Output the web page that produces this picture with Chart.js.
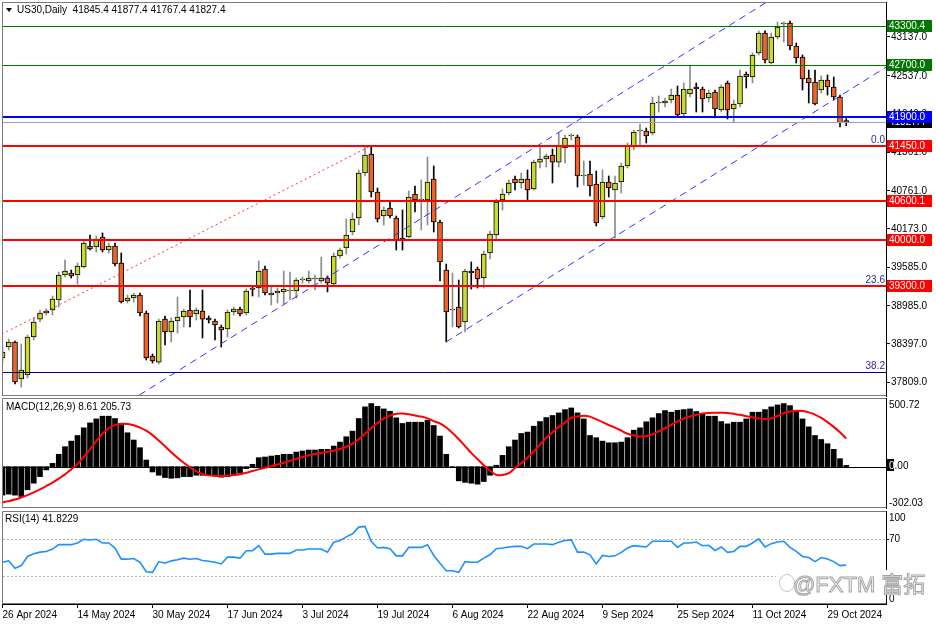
<!DOCTYPE html>
<html>
<head>
<meta charset="utf-8">
<script src="https://cdn.jsdelivr.net/npm/chart.js"></script>
<style>
  html, body { margin:0; padding:0; background:#fff; }
  body { position:relative; width:936px; height:624px; overflow:hidden; font-family:"Liberation Sans", Arial, sans-serif; }
  canvas { position:absolute; left:0; }
  #cMain { top:0; } #cMacd { top:397px; } #cRsi { top:509px; }
  .cap { position:absolute; font-size:10px; line-height:12px; color:#000; white-space:pre; }
  .tri { position:absolute; left:6px; top:8px; width:0; height:0; border-left:3.5px solid transparent; border-right:3.5px solid transparent; border-top:4px solid #000; }
  #wm { position:absolute; left:776px; top:570px; width:151px; height:25px; background:#fff; white-space:nowrap; }
  #wm .logo { position:absolute; left:3px; top:4px; width:14px; height:16px; border:1px solid #c4c4c4; border-radius:50%; }
  #wm .txt { position:absolute; left:17px; top:-1px; font-size:22px; line-height:26px; color:#fff; -webkit-text-stroke:1px #a4a4a4; }
  #wm .cjk { font-family:"Noto Sans CJK SC", sans-serif; margin-left:6px; }
</style>
</head>
<body>
<canvas id="cMain" width="936" height="397"></canvas>
<canvas id="cMacd" width="936" height="112"></canvas>
<canvas id="cRsi" width="936" height="115"></canvas>
<div class="tri"></div>
<div class="cap" id="tMain" style="left:17px;top:4px"></div>
<div class="cap" id="tMacd" style="left:6px;top:401px"></div>
<div class="cap" id="tRsi" style="left:5px;top:513px"></div>
<div id="wm"><div class="logo"></div><div class="txt">@FXTM<span class="cjk">富拓</span></div></div>
<script>
// daily bars, 26 Apr 2024 .. 1 Nov 2024 (bar index = position on the time axis)
const openP = [
  38181,38350,38428,37856,37918,38505,38782,38875,38922,39076,
  39462,39493,39462,39586,39910,39895,40049,39848,39910,39647,
  39061,39107,39153,38875,38211,38118,38782,38582,38752,38813,
  38922,38860,38906,38798,38752,38659,38628,38891,38937,38875,
  39246,39261,39555,39153,39184,39200,39215,39215,39385,39370,
  39400,39370,39416,39323,39756,39879,40127,40342,41037,41330,
  40744,40373,40497,40342,40034,40049,40713,40620,40620,40944,
  40280,39539,38922,38968,38736,39524,39555,39416,39802,40080,
  40620,40728,40944,40883,40944,40790,41206,41253,41315,41206,
  41423,41608,41593,40991,41022,40867,40358,40898,40774,40898,
  41145,41438,41685,41685,41654,42118,42118,42164,42241,41948,
  42257,42365,42334,42195,42288,42010,42427,42025,42102,42566,
  42519,42890,43199,42735,43137,43337,43353,42998,42828,42504,
  42442,42318,42473,42365,42210,41845.4
];
const highP = [
  38381,38474,38443,38397,38536,38798,38922,38937,39138,39508,
  39693,39539,39647,40003,40080,40065,40111,39956,39956,39802,
  39153,39184,39184,38906,38242,38782,38829,38798,39123,38937,
  39230,38953,39230,38829,38782,38690,38922,38968,38968,39246,
  39292,39678,39601,39277,39261,39524,39508,39416,39431,39524,
  39462,39740,39447,39802,39879,40327,40420,41083,41454,41454,
  40805,40512,40605,40373,40466,40759,40836,40929,41284,41145,
  40311,39632,39493,39385,39555,39663,39586,39833,40142,40635,
  40790,40929,40991,41037,41083,41237,41454,41330,41407,41654,
  41624,41639,41624,41222,41222,41068,41083,40991,40991,41191,
  41500,41700,41793,41731,42210,42226,42195,42334,42380,42427,
  42689,42427,42365,42318,42318,42396,42457,42164,42627,42597,
  42890,43230,43230,43199,43368,43368,43384,43044,42859,42627,
  42627,42535,42550,42519,42241,41877.4
];
const lowP = [
  38103,38304,37779,37733,37872,38459,38736,38844,38844,38968,
  39431,39416,39323,39570,39848,39817,39817,39802,39601,39030,
  39030,39045,38829,38150,38103,38087,38381,38428,38567,38659,
  38659,38767,38489,38720,38459,38350,38505,38844,38829,38844,
  39138,39123,39153,38999,39030,39014,39076,39107,39339,39339,
  39230,39339,39200,39308,39725,39786,40080,40234,40991,40666,
  40280,40234,40342,39848,39848,40034,40435,40157,40234,40126,
  39370,38428,38659,38644,38582,39246,39261,39261,39709,40003,
  40466,40697,40774,40805,40620,40774,41114,41129,40883,41129,
  41191,41546,40821,40852,40682,40219,40327,40666,40034,40728,
  41114,41392,41454,41500,41624,41978,42056,42118,41901,41917,
  42210,41979,41979,42133,41886,41979,41871,41825,42056,42349,
  42427,42859,42735,42720,43106,43060,42936,42735,42318,42118,
  42087,42272,42241,42164,41747,41767.4
];
const closeP = [
  38273,38428,37810,37995,38505,38736,38875,38906,39092,39462,
  39524,39447,39601,39956,39864,40018,39848,39910,39632,39045,
  39107,39153,38875,38181,38134,38752,38582,38752,38813,38906,
  38813,38922,38782,38767,38690,38613,38891,38937,38860,39215,
  39240,39524,39184,39184,39215,39246,39222,39385,39392,39416,
  39408,39416,39339,39756,39848,40080,40327,41037,41315,40744,
  40327,40466,40373,40003,40003,40666,40620,40628,40898,40280,
  39663,38891,38929,38659,39524,39493,39400,39786,40095,40589,
  40713,40883,40883,40944,40774,41206,41253,41299,41206,41454,
  41577,41616,40991,40999,40836,40265,40898,40805,40883,41145,
  41454,41670,41693,41608,42118,42126,42149,42241,41932,42334,
  42334,42334,42179,42272,42025,42365,42010,42102,42535,42519,
  42859,43199,42782,43137,43291,43345,42998,42813,42488,42427,
  42102,42473,42365,42210,41809,41827.4
];
const macdMain = [
  -208,-201,-208,-218,-169,-121,-73,-24,24,90,
  145,186,227,283,319,348,368,368,351,307,
  247,194,138,48,-39,-63,-80,-85,-82,-73,
  -73,-63,-63,-61,-63,-77,-73,-63,-48,-15,
  17,65,70,77,82,90,90,106,114,121,
  121,126,126,150,179,218,259,351,436,460,
  440,421,404,356,315,324,324,324,339,300,
  223,90,-5,-104,-115,-121,-128,-109,-63,10,
  82,145,194,242,252,295,329,358,373,392,
  416,428,392,348,227,211,186,174,174,179,
  211,266,283,327,356,387,409,397,411,416,
  421,402,387,368,368,329,312,324,324,348,
  397,397,416,436,450,460,445,404,348,290,
  227,198,167,126,58,8.61
];
const macdSignal = [
  -261,-252,-240,-225,-208,-188,-166,-142,-117,-88,
  -57,-20,18,70,125,185,240,280,303,312,
  311,302,285,262,230,190,148,105,65,28,
  -5,-35,-55,-64,-68,-69,-67,-62,-55,-45,
  -32,-20,-8,3,15,28,42,56,70,82,
  92,100,108,116,128,145,168,200,240,280,
  318,350,372,385,388,382,373,365,352,332,
  315,285,245,200,150,100,55,10,-30,-60,
  -62,-48,-10,25,65,110,160,210,250,290,
  320,355,365,372,365,345,325,303,285,262,
  240,228,220,222,235,258,280,305,330,350,
  366,378,388,392,393,393,392,385,378,368,
  360,352,348,352,370,390,402,408,405,396,
  380,355,325,290,250,205.73
];
const rsi14 = [
  44.9,46.4,38.4,41.3,51.1,54.0,55.8,56.5,59.1,63.8,
  63.8,63.8,65.6,69.6,68.9,69.6,65.6,65.6,60.2,48.2,
  48.2,48.9,44.9,34.7,34.0,45.6,43.8,46.4,47.5,49.3,
  48.2,48.9,46.7,46.0,44.9,43.1,50.4,50.4,49.3,57.3,
  57.3,62.7,53.6,53.6,54.4,54.4,54.4,58.0,58.0,59.1,
  59.1,59.1,55.8,66.4,68.2,72.2,75.5,82.7,83.5,67.5,
  60.2,60.9,59.5,51.8,51.8,60.9,60.9,60.9,63.8,52.2,
  43.8,35.8,35.8,34.0,45.6,44.9,44.9,49.3,52.9,59.5,
  60.2,61.3,62.0,62.0,59.5,64.5,64.5,64.5,63.8,66.4,
  68.2,68.9,55.8,55.8,52.9,43.1,52.2,51.1,51.8,55.5,
  60.2,62.7,62.0,61.3,67.5,67.5,67.5,67.5,60.9,65.6,
  65.6,66.7,62.7,63.1,57.6,61.3,55.5,56.5,62.0,62.0,
  65.6,70.0,61.3,64.9,66.7,67.5,60.9,56.5,51.1,50.0,
  45.6,50.0,48.5,45.6,41.3,41.8229
];

const dateTicks = ['26 Apr 2024','14 May 2024','30 May 2024','17 Jun 2024','3 Jul 2024','19 Jul 2024',
                   '6 Aug 2024','22 Aug 2024','9 Sep 2024','25 Sep 2024','11 Oct 2024','29 Oct 2024'];
const dateTickBars = [0,12,24,36,48,60,72,84,96,108,120,132];
const priceTicks = [43137.0,42537.0,41949.0,41361.0,40761.0,40173.0,39585.0,38985.0,38397.0,37809.0];

// drawn objects
const greenLevels = [43300.4, 42700.0];
const blueLevels = [41900.0];
const redLevels = [41450.0, 40600.1, 40000.0, 39300.0];
const fibLevels = [0.0, 23.6, 38.2];
const fibPrices = [41450, 39290, 37964];
const trendRed = [[-0.1, 38550], [58.8, 41450]];
const channelUp = [[21.9, 37609], [122.3, 43677]];
const channelDn = [[70.96, 38428], [141.4, 42673]];

const macdAxis = [500.72, 0.00, -302.03];
const rsiAxis = [100, 70, 0];
const rsiLevels = [30, 70];

const X_MIN = -0.08, X_MAX = 141.36;
const FONT = '"Liberation Sans", Arial, sans-serif';
Chart.defaults.font.family = FONT;
Chart.defaults.font.size = 10;
Chart.defaults.color = '#000';

const last = closeP.length - 1;
document.getElementById('tMain').textContent =
  'US30,Daily  ' + [openP[last], highP[last], lowP[last], closeP[last]].map(v => v.toFixed(1)).join(' ');
document.getElementById('tMacd').textContent =
  'MACD(12,26,9) ' + macdMain[macdMain.length - 1].toFixed(2) + ' ' + macdSignal[macdSignal.length - 1].toFixed(2);
document.getElementById('tRsi').textContent = 'RSI(14) ' + rsi14[rsi14.length - 1].toFixed(4);

const pts = arr => arr.map(p => ({ x: p[0], y: p[1] }));
const bull = i => closeP[i] >= openP[i];

const fitY = s => { s.width = 50; s.paddingTop = 0; s.paddingBottom = 0; };
const hiddenX = { type: 'linear', min: X_MIN, max: X_MAX, offset: false, display: false };
const base = {
  responsive: false, animation: false, events: [],
  plugins: { legend: { display: false }, tooltip: { enabled: false } }
};

// panel frame (left, top, bottom)
const frame = {
  id: 'frame',
  afterDraw(c) {
    const a = c.chartArea, ctx = c.ctx;
    ctx.save();
    ctx.strokeStyle = '#7a7a7a';
    ctx.lineWidth = 1;
    ctx.beginPath();
    ctx.moveTo(a.left + 0.5, a.bottom); ctx.lineTo(a.left + 0.5, a.top + 0.5); ctx.lineTo(a.right, a.top + 0.5);
    ctx.moveTo(a.left, a.bottom - 0.5); ctx.lineTo(a.right, a.bottom - 0.5);
    ctx.stroke();
    ctx.restore();
  }
};

function hLine(ctx, a, py, color, w) {
  const y = w % 2 ? Math.round(py) + 0.5 : Math.round(py);
  ctx.strokeStyle = color; ctx.lineWidth = w;
  ctx.beginPath(); ctx.moveTo(a.left + 1, y); ctx.lineTo(a.right, y); ctx.stroke();
}
function tag(ctx, py, bg, text) {
  const y = Math.round(py);
  ctx.fillStyle = bg; ctx.fillRect(887, y - 6, 45, 12);
  ctx.fillStyle = '#fff'; ctx.textBaseline = 'middle'; ctx.textAlign = 'left';
  ctx.fillText(text, 889, y + 0.5);
}

const levelStyles = [
  { vals: greenLevels, color: '#007800', w: 1 },
  { vals: [closeP[last]], color: '#9c9cd2', w: 1, tag: '#000' },
  { vals: blueLevels, color: '#0000ff', w: 2 },
  { vals: redLevels, color: '#ff0000', w: 2 }
];

const levels = {
  id: 'levels',
  afterDatasetsDraw(c) {
    const a = c.chartArea, ctx = c.ctx, s = c.scales.y;
    ctx.save();
    fibPrices.forEach(p => hLine(ctx, a, s.getPixelForValue(p), '#000080', 1));
    levelStyles.forEach(st => st.vals.forEach(v => hLine(ctx, a, s.getPixelForValue(v), st.color, st.w)));
    ctx.font = '10px ' + FONT;
    ctx.fillStyle = '#2e2e8c'; ctx.textAlign = 'right'; ctx.textBaseline = 'bottom';
    fibPrices.forEach((p, i) => ctx.fillText(fibLevels[i].toFixed(1), a.right - 1, Math.round(s.getPixelForValue(p)) - 1));
    ctx.restore();
  },
  afterDraw(c) {
    const ctx = c.ctx, s = c.scales.y;
    ctx.save();
    ctx.font = '10px ' + FONT;
    levelStyles.forEach(st => st.vals.forEach(v => tag(ctx, s.getPixelForValue(v), st.tag || st.color, v.toFixed(1))));
    ctx.restore();
  }
};

new Chart(document.getElementById('cMain'), {
  type: 'bar',
  data: {
    datasets: [
      { type: 'line', data: pts(trendRed), borderColor: '#ff3030', borderWidth: 1, borderDash: [2, 3], pointRadius: 0, order: 0 },
      { type: 'line', data: pts(channelUp), borderColor: '#3333ff', borderWidth: 1, borderDash: [7, 5], pointRadius: 0, order: 0 },
      { type: 'line', data: pts(channelDn), borderColor: '#3333ff', borderWidth: 1, borderDash: [7, 5], pointRadius: 0, order: 0 },
      {
        data: openP.map((o, i) => ({ x: i, y: [o, closeP[i]] })),
        backgroundColor: c => bull(c.dataIndex) ? '#c9db2e' : '#f0622a',
        borderColor: '#000', borderWidth: 1, borderSkipped: false,
        barThickness: 5, minBarLength: 1, grouped: false, order: 1
      },
      {
        data: lowP.map((l, i) => ({ x: i, y: [l, highP[i]] })),
        backgroundColor: c => bull(c.dataIndex) ? '#8c8c8c' : '#000',
        barThickness: 1, grouped: false, order: 2
      }
    ]
  },
  options: Object.assign({}, base, {
    layout: { padding: { left: 2, top: 2, right: 0, bottom: 1 } },
    scales: {
      x: hiddenX,
      y: {
        position: 'right', min: 37594, max: 43677,
        afterFit: fitY,
        afterBuildTicks: s => { s.ticks = priceTicks.map(v => ({ value: v })); },
        ticks: { callback: v => Number(v).toFixed(1), padding: 1, autoSkip: false, color: '#000' },
        grid: { drawOnChartArea: false, drawTicks: true, tickLength: 4, color: '#000' },
        border: { display: true, color: '#000' }
      }
    }
  }),
  plugins: [levels, frame]
});

// right-hand labels of the indicator panels: max below top edge, min above bottom edge
function sideLabels(vals, fmt, box) {
  return {
    id: 'sideLabels',
    afterDraw(c) {
      const s = c.scales.y, ctx = c.ctx;
      ctx.save();
      ctx.font = '10px ' + FONT;
      ctx.textAlign = 'left'; ctx.textBaseline = 'middle';
      const items = vals.map(v => {
        let py = s.getPixelForValue(v);
        if (v === s.max) py += 7;
        else if (v === s.min) py -= 5;
        return { v, py };
      });
      let rect = null;
      if (box !== undefined) {
        const y = Math.round(s.getPixelForValue(box));
        rect = [s.left + 1, y - 6, 7, 12];
        ctx.fillStyle = '#000'; ctx.fillRect(...rect);
      }
      ctx.fillStyle = '#000';
      items.forEach(({ v, py }) => {
        if (v !== s.max && v !== s.min) ctx.fillRect(s.left, Math.round(py), 3, 1);
        ctx.fillText(fmt(v), s.left + 3, py);
      });
      if (rect) {
        ctx.beginPath(); ctx.rect(...rect); ctx.clip();
        ctx.fillStyle = '#fff';
        items.forEach(({ v, py }) => ctx.fillText(fmt(v), s.left + 3, py));
      }
      ctx.restore();
    }
  };
}

const macdZero = {
  id: 'macdZero',
  beforeDatasetsDraw(c) {
    const a = c.chartArea, ctx = c.ctx, s = c.scales.y;
    ctx.save();
    hLine(ctx, a, s.getPixelForValue(0), '#000', 1);
    ctx.restore();
  }
};

new Chart(document.getElementById('cMacd'), {
  type: 'bar',
  data: {
    datasets: [
      { type: 'line', data: macdSignal.map((v, i) => ({ x: i, y: v })), borderColor: '#ff0000', borderWidth: 2, pointRadius: 0, tension: 0.3, order: 0 },
      { data: macdMain.map((v, i) => ({ x: i, y: v })), backgroundColor: '#000', barThickness: 5, grouped: false, order: 1 }
    ]
  },
  options: Object.assign({}, base, {
    layout: { padding: { left: 2, top: 1, right: 0, bottom: 1 } },
    scales: {
      x: hiddenX,
      y: {
        position: 'right', min: -302.03, max: 500.72, afterFit: fitY,
        ticks: { display: false }, grid: { display: false },
        border: { display: true, color: '#000' }
      }
    }
  }),
  plugins: [macdZero, frame, sideLabels(macdAxis, v => v.toFixed(2), macdMain[macdMain.length - 1])]
});

const rsiGuides = {
  id: 'rsiGuides',
  beforeDatasetsDraw(c) {
    const a = c.chartArea, ctx = c.ctx, s = c.scales.y;
    ctx.save();
    ctx.setLineDash([2, 2]);
    rsiLevels.forEach(v => hLine(ctx, a, s.getPixelForValue(v), '#b4b4b4', 1));
    ctx.restore();
  }
};

new Chart(document.getElementById('cRsi'), {
  type: 'line',
  data: {
    datasets: [
      { data: rsi14.map((v, i) => ({ x: i, y: v })), borderColor: '#1e90ff', borderWidth: 1.6, pointRadius: 0, tension: 0 }
    ]
  },
  options: Object.assign({}, base, {
    layout: { padding: { left: 2, top: 2, right: 0, bottom: 0 } },
    scales: {
      x: {
        type: 'linear', min: X_MIN, max: X_MAX, offset: false,
        afterBuildTicks: s => { s.ticks = dateTickBars.map(v => ({ value: v })); },
        afterFit: s => { s.height = 20; s.paddingLeft = 0; s.paddingRight = 0; },
        ticks: { callback: (v, i) => dateTicks[i], align: 'start', maxRotation: 0, minRotation: 0, autoSkip: false, padding: 1, color: '#000' },
        grid: { drawOnChartArea: false, drawTicks: true, tickLength: 4, color: '#000' },
        border: { display: true, color: '#000' }
      },
      y: {
        position: 'right', min: 0, max: 100, afterFit: fitY,
        ticks: { display: false }, grid: { display: false },
        border: { display: true, color: '#000' }
      }
    }
  }),
  plugins: [rsiGuides, frame, sideLabels(rsiAxis, v => String(v))]
});
</script>
</body>
</html>
